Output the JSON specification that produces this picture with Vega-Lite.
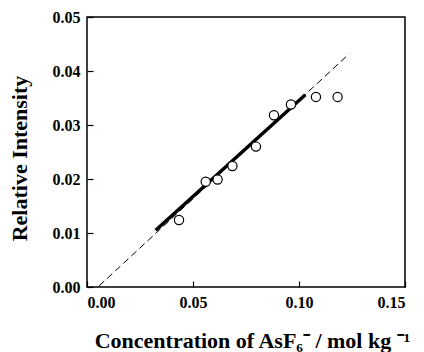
{
  "$schema": "https://vega.github.io/schema/vega-lite/v6.json",
  "autosize": "none",
  "width": 318,
  "height": 270,
  "padding": {"left": 87, "top": 17, "right": 19, "bottom": 65},
  "background": "white",
  "config": {
    "view": {"stroke": "black", "strokeWidth": 1.5},
    "font": "Liberation Serif",
    "axis": {
      "domain": false,
      "grid": false,
      "tickColor": "black",
      "tickSize": -6,
      "tickWidth": 1.2,
      "labelFont": "Liberation Serif",
      "labelFontWeight": "bold",
      "labelFontSize": 16,
      "labelColor": "black",
      "titleFont": "Liberation Serif",
      "titleFontWeight": "bold",
      "titleFontSize": 22,
      "titleColor": "black"
    }
  },
  "layer": [
    {
      "data": {"values": [{"x": 0.0057, "y": 0.0002}, {"x": 0.1237, "y": 0.0432}]},
      "mark": {"type": "line", "color": "black", "strokeWidth": 1, "strokeDash": [7, 4]},
      "encoding": {
        "x": {"field": "x", "type": "quantitative", "scale": {"domain": [0, 0.15], "nice": false},
          "axis": {"values": [0, 0.05, 0.1, 0.15], "format": ".2f", "title": "Concentration of AsF₆⁻ / mol kg ⁻¹", "labelPadding": 13, "titlePadding": 20, "titleX": 165}},
        "y": {"field": "y", "type": "quantitative", "scale": {"domain": [0, 0.05], "nice": false},
          "axis": {"values": [0, 0.01, 0.02, 0.03, 0.04, 0.05], "format": ".2f", "title": "Relative Intensity", "labelPadding": 13, "titlePadding": 21, "titleY": 141}}
      }
    },
    {
      "data": {"values": [{"x": 0.0324, "y": 0.0105}, {"x": 0.103, "y": 0.0356}]},
      "mark": {"type": "line", "color": "black", "strokeWidth": 3.5},
      "encoding": {
        "x": {"field": "x", "type": "quantitative"},
        "y": {"field": "y", "type": "quantitative"}
      }
    },
    {
      "data": {"values": [
        {"x": 0.0434, "y": 0.0124},
        {"x": 0.056, "y": 0.0195},
        {"x": 0.0616, "y": 0.0199},
        {"x": 0.0686, "y": 0.0224},
        {"x": 0.0797, "y": 0.026},
        {"x": 0.0882, "y": 0.0318},
        {"x": 0.0962, "y": 0.0338},
        {"x": 0.108, "y": 0.0352},
        {"x": 0.1182, "y": 0.0352}
      ]},
      "mark": {"type": "point", "shape": "circle", "filled": true, "fill": "white", "stroke": "black", "strokeWidth": 1.2, "size": 85, "opacity": 1},
      "encoding": {
        "x": {"field": "x", "type": "quantitative"},
        "y": {"field": "y", "type": "quantitative"}
      }
    }
  ]
}
